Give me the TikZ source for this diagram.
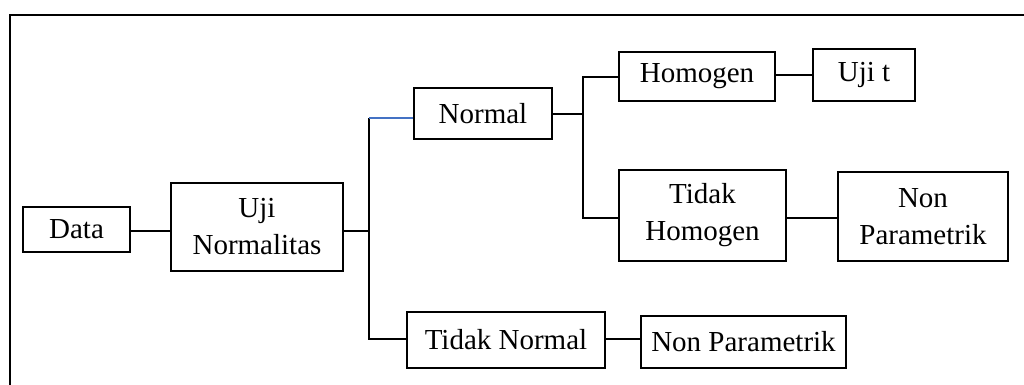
\documentclass[tikz,border=0pt]{standalone}
\usepackage{fontspec}
\setmainfont{Liberation Serif}
\begin{document}
\begin{tikzpicture}[x=1pt,y=-1pt,
  box/.style={draw=black, line width=1.8pt, inner sep=0pt, align=center,
    font=\fontsize{29}{37}\selectfont},
  link/.style={draw=black, line width=1.8pt},
  bluelink/.style={draw={rgb,255:red,68;green,114;blue,196}, line width=1.8pt}]
\useasboundingbox (0,0) rectangle (1024,385);

% outer frame (open at right and bottom)
\draw[line width=1.8pt] (10,385) -- (10,15) -- (1024,15);

% boxes
\node[box, minimum width=107pt, minimum height=45pt] (data) at (76.5,229.5) {Data};
\node[box, minimum width=172pt, minimum height=88pt] (uji) at (257,227) {Uji\\Normalitas};
\node[box, minimum width=138pt, minimum height=51pt] (normal) at (483,113.5) {Normal};
\node[box, minimum width=156pt, minimum height=49pt] (homogen) at (697,76.5) {Homogen};
\node[box, minimum width=102pt, minimum height=52pt] (ujit) at (864,75) {Uji t};
\node[box, minimum width=167pt, minimum height=91pt] (thomogen) at (702.5,215.5) {Tidak\\Homogen};
\node[box, minimum width=170pt, minimum height=89pt] (np1) at (923,216.5) {Non\\Parametrik};
\node[box, minimum width=198pt, minimum height=56pt] (tnormal) at (506,340) {Tidak Normal};
\node[box, minimum width=205pt, minimum height=52pt] (np2) at (743.5,342) {Non Parametrik};

% branch points
\coordinate (j1) at (369,231);
\coordinate (j1top) at (369,118);
\coordinate (j1bot) at (369,339);
\coordinate (j2) at (583,114);
\coordinate (j2top) at (583,77);
\coordinate (j2bot) at (583,218);

% connectors
\draw[link] (data.east |- j1) -- (uji.west |- j1);
\draw[link] (uji.east |- j1) -- (j1);
\draw[link] (j1top) -- (j1bot) -- (tnormal.west |- j1bot);
\draw[bluelink] (j1top) -- (normal.west |- j1top);
\draw[link] (normal.east |- j2) -- (j2);
\draw[link] (homogen.west |- j2top) -- (j2top) -- (j2bot) -- (thomogen.west |- j2bot);
\draw[link] (homogen.east |- 0,75) -- (ujit.west |- 0,75);
\draw[link] (thomogen.east |- j2bot) -- (np1.west |- j2bot);
\draw[link] (tnormal.east |- j1bot) -- (np2.west |- j1bot);
\end{tikzpicture}
\end{document}
